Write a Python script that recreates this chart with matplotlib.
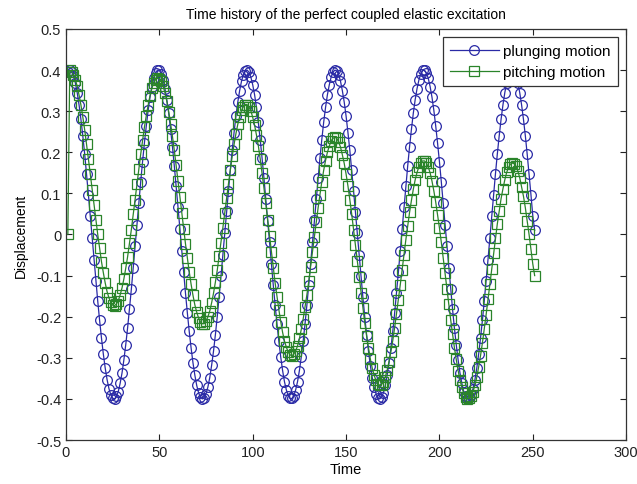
import matplotlib
matplotlib.use('Agg')
import matplotlib.pyplot as plt

plt.rcParams['font.family'] = ['Liberation Sans', 'DejaVu Sans']

# time steps 1..251
time = list(range(1, 252))

plunging = [
    0.396, 0.400, 0.396, 0.386, 0.369, 0.345, 0.315, 0.280, 0.240, 0.196,
    0.147, 0.097, 0.045, -0.008, -0.061, -0.112, -0.162, -0.209, -0.252, -0.291,
    -0.325, -0.353, -0.375, -0.390, -0.398, -0.400, -0.394, -0.382, -0.362, -0.337,
    -0.305, -0.268, -0.227, -0.181, -0.133, -0.082, -0.029, 0.024, 0.076, 0.128,
    0.177, 0.223, 0.264, 0.302, 0.334, 0.360, 0.380, 0.393, 0.400, 0.399,
    0.391, 0.376, 0.355, 0.328, 0.295, 0.256, 0.214, 0.167, 0.117, 0.066,
    0.013, -0.040, -0.092, -0.143, -0.191, -0.236, -0.276, -0.312, -0.342, -0.367,
    -0.385, -0.396, -0.400, -0.397, -0.387, -0.371, -0.348, -0.318, -0.284, -0.244,
    -0.200, -0.152, -0.102, -0.050, 0.003, 0.056, 0.107, 0.157, 0.205, 0.248,
    0.288, 0.322, 0.350, 0.373, 0.389, 0.398, 0.400, 0.395, 0.383, 0.364,
    0.340, 0.309, 0.273, 0.231, 0.186, 0.138, 0.087, 0.034, -0.019, -0.071,
    -0.123, -0.172, -0.218, -0.260, -0.298, -0.331, -0.358, -0.378, -0.392, -0.399,
    -0.399, -0.392, -0.378, -0.358, -0.331, -0.298, -0.260, -0.218, -0.172, -0.123,
    -0.071, -0.018, 0.035, 0.087, 0.138, 0.186, 0.231, 0.273, 0.309, 0.340,
    0.364, 0.383, 0.395, 0.400, 0.398, 0.389, 0.373, 0.350, 0.322, 0.288,
    0.248, 0.205, 0.157, 0.107, 0.055, 0.003, -0.050, -0.102, -0.153, -0.200,
    -0.244, -0.284, -0.319, -0.348, -0.371, -0.387, -0.397, -0.400, -0.396, -0.385,
    -0.367, -0.342, -0.312, -0.276, -0.236, -0.191, -0.142, -0.092, -0.040, 0.013,
    0.066, 0.118, 0.167, 0.214, 0.256, 0.295, 0.328, 0.355, 0.376, 0.391,
    0.399, 0.399, 0.393, 0.380, 0.360, 0.334, 0.302, 0.264, 0.222, 0.177,
    0.128, 0.076, 0.024, -0.029, -0.082, -0.133, -0.181, -0.227, -0.268, -0.305,
    -0.337, -0.362, -0.382, -0.394, -0.400, -0.398, -0.390, -0.375, -0.353, -0.325,
    -0.291, -0.252, -0.209, -0.162, -0.112, -0.061, -0.008, 0.045, 0.097, 0.148,
    0.196, 0.240, 0.280, 0.315, 0.345, 0.369, 0.386, 0.396, 0.400, 0.396,
    0.386, 0.369, 0.345, 0.315, 0.280, 0.240, 0.195, 0.147, 0.097, 0.045,
    0.010,
]

pitching = [
    0.000, 0.399, 0.396, 0.389, 0.377, 0.361, 0.339, 0.315, 0.286, 0.255,
    0.220, 0.184, 0.147, 0.109, 0.072, 0.035, 0.000, -0.034, -0.066, -0.093,
    -0.118, -0.139, -0.154, -0.165, -0.172, -0.173, -0.169, -0.161, -0.147, -0.130,
    -0.108, -0.082, -0.054, -0.021, 0.012, 0.049, 0.085, 0.123, 0.159, 0.195,
    0.229, 0.261, 0.289, 0.315, 0.338, 0.356, 0.369, 0.377, 0.381, 0.379,
    0.373, 0.361, 0.345, 0.324, 0.299, 0.270, 0.239, 0.205, 0.168, 0.131,
    0.092, 0.053, 0.014, -0.023, -0.058, -0.091, -0.121, -0.148, -0.171, -0.189,
    -0.203, -0.213, -0.217, -0.217, -0.211, -0.200, -0.186, -0.166, -0.143, -0.116,
    -0.087, -0.053, -0.020, 0.016, 0.052, 0.088, 0.123, 0.157, 0.190, 0.219,
    0.245, 0.268, 0.286, 0.302, 0.311, 0.316, 0.316, 0.310, 0.301, 0.285,
    0.266, 0.242, 0.216, 0.184, 0.150, 0.114, 0.076, 0.036, -0.003, -0.042,
    -0.081, -0.118, -0.151, -0.183, -0.212, -0.238, -0.259, -0.274, -0.286, -0.293,
    -0.295, -0.291, -0.283, -0.271, -0.253, -0.231, -0.206, -0.177, -0.147, -0.114,
    -0.079, -0.042, -0.006, 0.030, 0.064, 0.097, 0.128, 0.156, 0.180, 0.200,
    0.215, 0.228, 0.234, 0.237, 0.234, 0.225, 0.213, 0.194, 0.173, 0.147,
    0.118, 0.085, 0.050, 0.012, -0.026, -0.064, -0.104, -0.142, -0.180, -0.215,
    -0.247, -0.276, -0.303, -0.325, -0.342, -0.355, -0.363, -0.367, -0.365, -0.358,
    -0.346, -0.330, -0.309, -0.285, -0.258, -0.227, -0.193, -0.159, -0.123, -0.086,
    -0.049, -0.013, 0.021, 0.054, 0.083, 0.110, 0.133, 0.151, 0.165, 0.175,
    0.179, 0.179, 0.174, 0.164, 0.150, 0.130, 0.106, 0.079, 0.048, 0.016,
    -0.019, -0.057, -0.094, -0.133, -0.170, -0.207, -0.242, -0.275, -0.304, -0.331,
    -0.354, -0.372, -0.386, -0.396, -0.400, -0.399, -0.393, -0.382, -0.367, -0.347,
    -0.322, -0.295, -0.264, -0.230, -0.195, -0.158, -0.121, -0.083, -0.046, -0.009,
    0.026, 0.057, 0.087, 0.111, 0.133, 0.151, 0.163, 0.171, 0.174, 0.172,
    0.166, 0.154, 0.138, 0.116, 0.093, 0.065, 0.033, 0.000, -0.036, -0.072,
    -0.100,
]

xticks = [0, 50, 100, 150, 200, 250, 300]
yticks = [-0.5, -0.4, -0.3, -0.2, -0.1, 0, 0.1, 0.2, 0.3, 0.4, 0.5]
ytick_labels = ['-0.5', '-0.4', '-0.3', '-0.2', '-0.1', '0', '0.1', '0.2', '0.3', '0.4', '0.5']

fig = plt.figure(figsize=(6.37, 4.85), dpi=100)
ax = fig.add_axes([0.1036, 0.0907, 0.8794, 0.8475])

ax.plot(time, plunging, color='#2a2aa6', linewidth=0.9, marker='o', markersize=7,
        markerfacecolor='none', markeredgewidth=0.9, label='plunging motion')
ax.plot(time, pitching, color='#2a842a', linewidth=0.9, marker='s', markersize=7,
        markerfacecolor='none', markeredgewidth=0.9, label='pitching motion')

ax.set_xlim(0, 300)
ax.set_ylim(-0.5, 0.5)
ax.set_xticks(xticks)
ax.set_xticklabels([str(v) for v in xticks])
ax.set_yticks(yticks)
ax.set_yticklabels(ytick_labels)
ax.tick_params(direction='in', top=True, right=True, length=4, labelsize=10.5, colors='#222222')
for s in ax.spines.values():
    s.set_color('#333333')
    s.set_linewidth(0.9)

ax.set_title('Time history of the perfect coupled elastic excitation', fontsize=10, pad=8)
ax.set_xlabel('Time', fontsize=10.5, labelpad=2)
ax.set_ylabel('Displacement', fontsize=10, labelpad=6)

leg = ax.legend(loc='upper right', fontsize=11, fancybox=False, framealpha=1,
                edgecolor='#333333', borderpad=0.45, handlelength=3.2, labelspacing=0.45,
                borderaxespad=0.55, handletextpad=0.3)
leg.get_frame().set_linewidth(0.9)

plt.savefig('out.png', dpi=100)
